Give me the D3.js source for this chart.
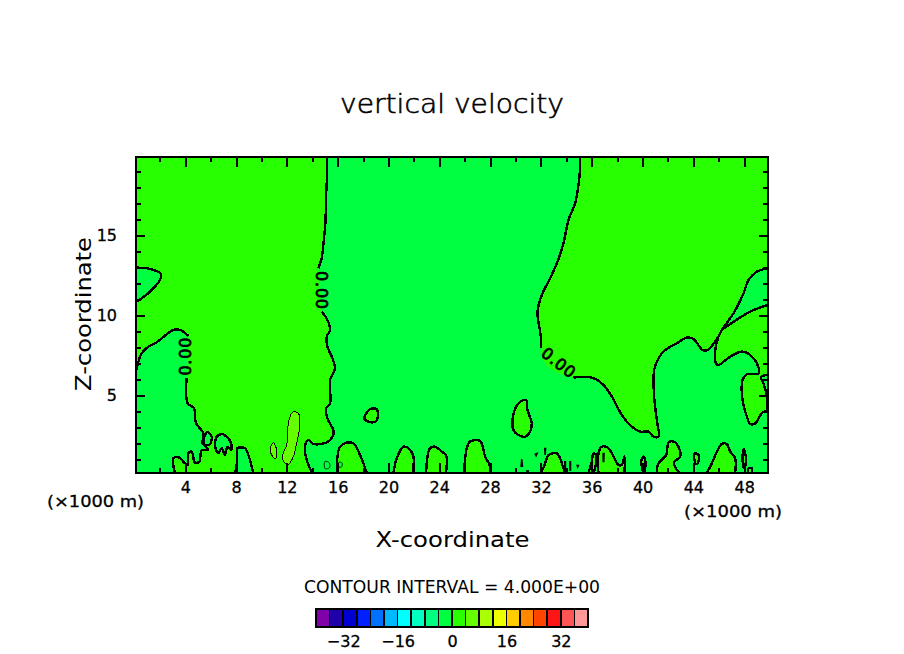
<!DOCTYPE html>
<html><head><meta charset="utf-8">
<script src="https://cdn.jsdelivr.net/npm/d3@7"></script>
<style>
html,body{margin:0;padding:0;background:#fff}
svg{display:block}
text{font-family:"DejaVu Sans",sans-serif;fill:#000;stroke:#000;stroke-width:0.3px}
</style></head><body>
<svg id="c" width="904" height="654"></svg>
<script>
// Axis values
const xMajor=[4,8,12,16,20,24,28,32,36,40,44,48];
const xMinor=[2,6,10,14,18,22,26,30,34,38,42,46];
const zMajor=[5,10,15];
const zMinor=[1,2,3,4,6,7,8,9,11,12,13,14,16,17,18,19];
const xDomain=[0.125,49.875], zDomain=[0.125,19.875];

// Contour interval colours and legend ticks
const levelColors=["#8000aa","#2000a8","#0000d0","#0020ff","#0070ff","#00b8ff","#00ffff","#00ffc0","#00ff80","#00ff40","#28ff00","#66ff00","#aaff00","#eeff00","#ffcc00","#ff8800","#ff4400","#ff1515","#ff5555","#ff9999"];
const levelDomain=[-40,40];
const levelTicks=[-32,-16,0,16,32];
const SPRING=levelColors[9], BRIGHT=levelColors[10], LIME=levelColors[11];

// Zero contour, west branch (x km, z km)
const westUpper=[[0.125,6.46],[0.57,7.61],[1.10,8.02],[1.75,8.29],[3.06,9.07],[3.59,9.07],[4.25,8.69]];
const westLower=[[4.11,6.04],[4.19,4.48],[4.69,4.17],[4.85,3.23],[5.43,2.61],[5.37,1.98],[5.82,1.56],[5.30,1.56],[5.11,0.84],[4.77,0.77],[4.51,1.46],[4.25,1.36],[4.19,0.63],[3.98,0.73],[3.46,1.11],[3.06,1.04],[3.20,0.125]];
const midUpper=[[15.17,19.875],[15.17,18.96],[15.09,17.40],[15.03,15.73],[14.88,14.48],[14.74,13.54],[14.48,12.92]];
const midLower=[[14.74,10.21],[15.19,9.69],[15.40,9.07],[15.14,8.65],[15.19,8.02],[15.53,7.40],[15.79,6.67],[15.40,5.94],[15.40,4.48],[15.09,4.17],[15.19,3.54],[15.66,2.81],[15.66,2.50],[15.14,2.04],[14.09,1.94],[13.69,2.19],[13.43,1.77],[13.56,0.94],[14.01,0.125]];
const hill8=[[9.36,0.125],[8.97,1.25],[8.71,1.67],[8.10,1.67],[8.10,0.94],[7.92,0.125]];
const eastUpper=[[35.09,19.875],[35.03,18.65],[34.69,16.98],[34.17,15.94],[33.77,14.48],[33.25,13.23],[32.72,12.29],[32.07,11.25],[31.73,10.21],[31.99,8.65],[31.99,7.92]];
const eastGap=[[32.07,7.29],[32.72,6.67],[33.77,6.25]];
const eastLower=[[34.56,6.09],[36.0,6.09],[36.92,5.63],[37.58,4.90],[38.37,3.75],[39.15,3.02],[39.81,2.71],[40.47,2.71],[40.86,2.40],[41.25,2.40],[41.12,3.44],[40.91,4.90],[40.91,6.56],[41.25,7.29],[41.78,7.81],[42.70,8.23],[43.49,8.59],[44.01,8.50],[44.72,7.81],[45.11,7.81],[45.98,8.65],[46.24,9.07],[47.16,10.11],[47.95,11.36],[48.34,12.19],[49.0,12.71],[49.875,12.92]];
const farEastTop=[[46.24,9.07],[48.47,10.21],[49.875,10.63]];
const farEastLow=[[49.875,6.29],[49.31,6.09],[49.52,5.73],[49.78,4.90],[49.78,4.06],[49.39,3.86],[48.87,3.23],[48.47,3.19],[48.21,3.65],[47.87,4.69],[47.87,5.94],[48.21,6.29],[49.13,6.36],[49.0,6.98],[48.47,7.50],[47.82,7.71],[46.9,7.40],[45.98,6.88],[45.77,6.98],[45.72,7.81],[45.98,8.65],[46.24,9.07]];
const cornerNW=[[0.125,19.875]];

// Closed negative-side patch on the west boundary
const patchNW=[[0.125,12.96],[1.23,12.88],[2.07,12.56],[2.01,12.19],[1.23,11.46],[0.57,11.04],[0.125,10.83]];

// Closed loops filled with the lower level inside the west region
const lowLoops=[
 [[5.74,2.67],[6.08,2.40],[5.95,1.94],[5.56,1.88],[5.43,2.19]],
 [[6.35,2.09],[6.48,2.40],[6.87,2.56],[7.26,2.40],[7.61,1.98],[7.61,1.56],[7.32,1.77],[7.13,1.25],[6.87,1.67],[6.61,1.36],[6.35,1.77]]
];
// Closed loops of the next level up
const limeLoops=[
 [[12.64,3.96],[12.98,3.75],[12.98,2.81],[12.77,1.98],[12.51,1.15],[12.12,0.67],[11.73,0.84],[11.67,1.25],[11.99,1.88],[12.12,3.23],[12.38,3.86]],
 [[10.94,2.02],[11.2,1.56],[11.15,1.04],[10.89,1.15],[10.70,1.67]]
];
// Hills rising from the ground in the low region
const hills=[
 [[15.93,0.125],[15.98,1.15],[16.19,1.77],[16.71,2.02],[17.24,1.98],[17.76,1.25],[18.29,0.125]],
 [[20.39,0.125],[20.65,1.04],[21.17,1.77],[21.57,1.67],[21.96,1.15],[21.91,0.125]],
 [[22.96,0.125],[23.27,1.67],[23.67,1.77],[24.19,1.46],[24.53,1.25],[24.53,0.125]],
 [[25.95,0.125],[26.16,1.67],[26.42,2.09],[27.21,2.13],[27.61,1.15],[27.95,0.63],[28.05,0.125]],
 [[32.02,0.125],[32.33,0.73],[32.59,1.25],[33.25,1.35],[33.51,1.04],[33.77,0.42],[33.9,0.125]],
 [[35.74,0.125],[36.0,0.83],[36.14,1.35],[36.35,1.25],[36.32,0.63],[36.14,0.125]],
 [[36.53,0.125],[36.53,1.35],[36.79,1.77],[37.32,1.67],[37.71,1.15],[38.10,0.63],[38.37,0.63],[38.58,1.15],[38.58,0.125]],
 [[39.86,0.83],[40.07,1.15],[40.23,0.83],[40.12,0.125],[40.0,0.3]],
 [[41.12,0.125],[41.25,0.73],[41.86,1.25],[42.04,2.02],[42.44,2.09],[42.88,1.67],[42.96,1.15],[42.49,0.83],[42.49,0.63],[42.88,0.125]],
 [[45.06,0.125],[45.45,0.73],[45.85,1.46],[46.24,1.94],[46.63,1.94],[46.9,1.46],[47.29,1.04],[47.29,0.125]],
 [[48.29,0.125],[48.34,0.42],[48.6,0.42],[48.6,0.125]]
];
// Closed bright blobs in the low region
const blobs=[
 [[18.10,3.54],[18.55,4.11],[19.07,4.11],[19.13,3.54],[18.94,3.33],[18.42,3.33]],
 [[30.83,4.69],[30.94,4.06],[31.28,3.23],[31.15,2.71],[30.76,2.40],[30.23,2.50],[29.84,2.81],[29.78,3.54],[30.23,4.48]],
 [[44.09,1.35],[44.40,1.25],[44.33,0.73],[44.17,0.73]],
 [[47.95,1.63],[48.16,0.94],[48.0,0.42],[47.87,0.94]]
];
// Very small features
const specks=[[[30.44,0.55],[30.49,1.0],[30.55,0.55]],[[31.55,1.3],[31.7,1.35],[31.62,1.2]],[[32.3,1.65],[32.37,1.65],[32.33,1.25]],[[30.9,0.25],[31.0,0.25],[30.95,0.15]],[[34.85,0.6],[34.95,0.6],[34.9,0.5]],[[36.9,1.35],[36.97,1.35],[36.95,0.85],[36.9,0.85]],[[33.88,0.83],[33.93,0.83],[33.93,0.2],[33.88,0.2]],[[34.28,0.83],[34.33,0.83],[34.33,0.3],[34.28,0.3]]];
const thinSpecks=[[[15.0,0.85],[15.35,0.75],[15.35,0.45],[15.0,0.4]],[[16.1,0.8],[16.35,0.75],[16.3,0.5],[16.1,0.5]]];

// Contour labels: x, z, rotation
const labelText=["0.00","0.00","0.00"];
const labelX=[4.05,14.69,33.38];
const labelZ=[7.4,11.56,7.02];
const labelAngle=[-90,90,38];

const svg=d3.select("#c");
const x=d3.scaleLinear().domain(xDomain).range([136,768]);
const z=d3.scaleLinear().domain(zDomain).range([473,157]);
const defs=svg.append("defs");
defs.append("clipPath").attr("id","plot").append("rect")
 .attr("x",136).attr("y",157).attr("width",632).attr("height",316);

const open=d3.line().x(d=>x(d[0])).y(d=>z(d[1])).curve(d3.curveCatmullRom.alpha(0.5));
const closed=d3.line().x(d=>x(d[0])).y(d=>z(d[1])).curve(d3.curveCatmullRomClosed.alpha(0.5));
const straight=d3.line().x(d=>x(d[0])).y(d=>z(d[1]));
// Join several sections into one filled outline
function region(sections){
  return sections.map((s,i)=>{
    const p=s.length<3?straight(s):open(s);
    return i? p.replace(/^M/,"L"):p;
  }).join("")+"Z";
}
const g=svg.append("g").attr("clip-path","url(#plot)");
g.append("rect").attr("x",136).attr("y",157).attr("width",632).attr("height",316).attr("fill",SPRING);

// bright regions
const regions=[
 [cornerNW,[midUpper[0]],midUpper,midLower,[[14.01,0.125],[9.36,0.125]],hill8,[[7.92,0.125],[3.20,0.125]],westLower.slice().reverse(),westUpper.slice().reverse()],
 [eastUpper,eastGap,eastLower,[[49.875,12.92],[49.875,19.875],[35.09,19.875]]],
 [farEastTop,[[49.875,10.63],[49.875,6.29]],farEastLow]
];
g.selectAll("path.reg").data(regions).join("path").attr("class","reg")
 .attr("d",region).attr("fill",BRIGHT).attr("stroke","none");
g.append("path").attr("d",region([patchNW])).attr("fill",SPRING);

const contourStyle=s=>s.attr("stroke","#000").attr("stroke-width",2.4).attr("shape-rendering","crispEdges");
const plain=[westUpper,westLower,midUpper,midLower,hill8,eastUpper,eastLower,farEastTop,farEastLow,patchNW];
g.selectAll("path.line").data(plain).join("path").attr("class","line")
 .attr("d",open).attr("fill","none").call(contourStyle);

g.selectAll("path.low").data(lowLoops).join("path").attr("class","low")
 .attr("d",closed).attr("fill",SPRING).call(contourStyle);
g.selectAll("path.blob").data(blobs).join("path").attr("class","blob")
 .attr("d",closed).attr("fill",BRIGHT).call(contourStyle);
g.selectAll("path.hill").data(hills).join("path").attr("class","hill")
 .attr("d",d=>open(d)+"Z").attr("fill",BRIGHT).call(contourStyle);
g.selectAll("path.speck").data(specks).join("path").attr("class","speck")
 .attr("d",d=>straight(d)+"Z").attr("fill","#000").attr("stroke","#000").attr("stroke-width",1.5);
g.selectAll("path.lime").data(limeLoops).join("path").attr("class","lime")
 .attr("d",closed).attr("fill",LIME).attr("stroke","#000").attr("stroke-width",1).attr("shape-rendering","crispEdges");
g.selectAll("path.tspeck").data(thinSpecks).join("path").attr("class","tspeck")
 .attr("d",closed).attr("fill",SPRING).attr("stroke","#000").attr("stroke-width",0.8);

// contour labels
svg.selectAll("text.cl").data(labelText).join("text").attr("class","cl")
 .attr("transform",(d,i)=>`translate(${x(labelX[i])},${z(labelZ[i])}) rotate(${labelAngle[i]})`)
 .attr("text-anchor","middle").attr("dominant-baseline","central")
 .attr("font-size",16).style("stroke-width","0.8px")
 .attr("textLength",38).attr("lengthAdjust","spacing")
 .text(d=>d);

// axes
function axisStyle(a){a.select(".domain").remove();a.selectAll("line").attr("stroke","#000").attr("stroke-width",2).attr("shape-rendering","crispEdges");a.selectAll("text").attr("font-size",16).attr("font-family",'"DejaVu Sans",sans-serif');}
function noText(a){a.selectAll("text").remove();}
svg.append("g").attr("transform","translate(0,473)").call(d3.axisBottom(x).tickValues(xMajor).tickFormat(d3.format("d")).tickSizeInner(-10).tickSizeOuter(0).tickPadding(9)).call(axisStyle)
 .selectAll("text").attr("dy","0.71em").attr("y",9);
svg.append("g").attr("transform","translate(0,473)").call(d3.axisBottom(x).tickValues(xMinor).tickSizeInner(-5).tickSizeOuter(0)).call(axisStyle).call(noText);
svg.append("g").attr("transform","translate(0,157)").call(d3.axisTop(x).tickValues(xMajor).tickSizeInner(-10).tickSizeOuter(0)).call(axisStyle).call(noText);
svg.append("g").attr("transform","translate(0,157)").call(d3.axisTop(x).tickValues(xMinor).tickSizeInner(-5).tickSizeOuter(0)).call(axisStyle).call(noText);
svg.append("g").attr("transform","translate(136,0)").call(d3.axisLeft(z).tickValues(zMajor).tickFormat(d3.format("d")).tickSizeInner(-9).tickSizeOuter(0).tickPadding(19)).call(axisStyle);
svg.append("g").attr("transform","translate(136,0)").call(d3.axisLeft(z).tickValues(zMinor).tickSizeInner(-5).tickSizeOuter(0)).call(axisStyle).call(noText);
svg.append("g").attr("transform","translate(768,0)").call(d3.axisRight(z).tickValues(zMajor).tickSizeInner(-9).tickSizeOuter(0)).call(axisStyle).call(noText);
svg.append("g").attr("transform","translate(768,0)").call(d3.axisRight(z).tickValues(zMinor).tickSizeInner(-5).tickSizeOuter(0)).call(axisStyle).call(noText);
svg.append("rect").attr("x",136).attr("y",157).attr("width",632).attr("height",316)
 .attr("fill","none").attr("stroke","#000").attr("stroke-width",2).attr("shape-rendering","crispEdges");

// texts
function label(t,cx,cy,size,len,rot){
  const s=svg.append("text").attr("text-anchor","middle").attr("font-size",size)
   .attr("textLength",len).attr("lengthAdjust","spacingAndGlyphs").text(t);
  s.attr("transform",`translate(${cx},${cy})${rot?` rotate(${rot})`:""}`);
  return s;
}
label("vertical velocity",452,113,27,224).attr("font-weight",300).style("stroke-width","0.6px");
label("X-coordinate",452.5,547,22,154).style("stroke-width","0px");
label("Z-coordinate",91,314,22,154,-90).style("stroke-width","0px");
label("(×1000 m)",95.5,507,16,97);
label("(×1000 m)",733,517,16,98);
label("CONTOUR INTERVAL = 4.000E+00",452,593,17,296).style("stroke-width","0px");

// colour key
const key=d3.scaleLinear().domain(levelDomain).range([316,588]);
const step=(levelDomain[1]-levelDomain[0])/levelColors.length;
svg.append("g").selectAll("rect").data(levelColors).join("rect")
 .attr("x",(d,i)=>key(levelDomain[0]+i*step)).attr("y",609)
 .attr("width",key(step)-key(0)).attr("height",18)
 .attr("fill",d=>d).attr("stroke","#000").attr("stroke-width",1.5).attr("shape-rendering","crispEdges");
svg.append("rect").attr("x",316).attr("y",609).attr("width",272).attr("height",18)
 .attr("fill","none").attr("stroke","#000").attr("stroke-width",2).attr("shape-rendering","crispEdges");
const keyAxis=svg.append("g").attr("transform","translate(0,627)")
 .call(d3.axisBottom(key).tickValues(levelTicks).tickFormat(d3.format("d")).tickSize(0).tickPadding(9));
keyAxis.select(".domain").remove();
keyAxis.selectAll("text").attr("font-size",16).attr("font-family",'"DejaVu Sans",sans-serif');
</script>
</body></html>
